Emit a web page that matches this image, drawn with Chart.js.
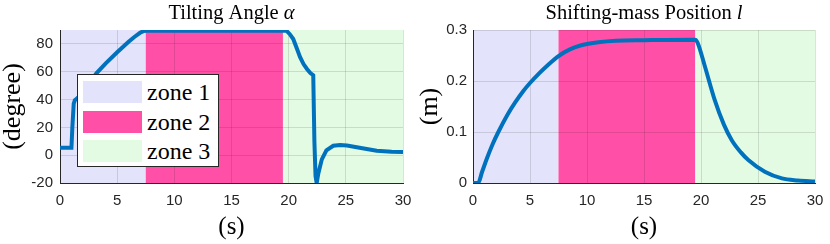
<!DOCTYPE html>
<html>
<head>
<meta charset="utf-8">
<script src="https://cdn.jsdelivr.net/npm/chart.js@4.4.1/dist/chart.umd.min.js"></script>
<style>
  html, body { margin: 0; padding: 0; background: #ffffff; }
  #wrap { position: relative; width: 830px; height: 244px; overflow: hidden; }
  .panel { position: absolute; top: 0; width: 415px; height: 244px; }
  #legend {
    position: absolute; left: 77px; top: 74px; width: 140px; height: 91px;
    border: 1px solid #262626; background: #ffffff;
    font-family: "Liberation Serif", "DejaVu Serif", serif; font-size: 24px; color: #000;
  }
  .row { position: absolute; left: 5px; height: 22px; }
  .sw { position: absolute; left: 0; top: 0; width: 59px; height: 22px; }
  .lbl { position: absolute; left: 64px; top: -2px; line-height: 26px; white-space: nowrap; }
</style>
</head>
<body>
<div id="wrap">
  <div class="panel" style="left:0"><canvas id="angle-chart" width="415" height="244"></canvas></div>
  <div class="panel" style="left:415px"><canvas id="mass-chart" width="415" height="244"></canvas></div>
  <div id="legend"></div>
</div>
<script>
// zones
const zoneNames = ["zone 1", "zone 2", "zone 3"];
const zoneStart = [0, 7.5, 19.5];
const zoneEnd = [7.5, 19.5, 30];
const zoneColors = ["#e3e3fb", "#ff4fa7", "#e3fbe3"];

// tilting angle alpha (degree) vs time (s)
const alphaTime = [0, 1.0, 1.08, 1.2, 1.3, 1.45, 2.0, 2.5, 3.2, 4.0, 5.0, 6.0, 6.5, 7.0, 7.3, 7.6,
  19.8, 20.1, 20.4, 20.7, 21.0, 21.3, 21.6, 21.9, 22.15, 22.25, 22.35, 22.45, 22.6, 22.9, 23.3,
  23.9, 24.5, 25.1, 26.2, 27.7, 29.0, 30.0];
const alphaDeg = [5.3, 5.3, 20, 37, 39.5, 40.5, 45, 51, 59, 66, 74, 81.5, 85, 88, 89.2, 89.5,
  89.5, 87, 83.5, 77, 70.5, 65.5, 62, 59, 57.5, 10, -15, -20, -13, -3, 3.5,
  6.8, 7.3, 7, 5.3, 3.2, 2.4, 2.2];

// shifting-mass position l (m) vs time (s)
const massTime = [0, 0.45, 0.8, 1.2, 1.7, 2.2, 3.0, 3.7, 4.4, 5.0, 5.8, 6.6, 7.5, 8.5, 9.5, 11, 12.5, 15, 19.5,
  19.7, 20.35, 21.2, 22.0, 22.7, 23.5, 24.15, 25.6, 27.1, 28.5, 30];
const massPos = [0, 0, 0.022, 0.047, 0.075, 0.099, 0.133, 0.158, 0.18, 0.196, 0.215, 0.232, 0.249, 0.262, 0.27, 0.276, 0.279, 0.28, 0.281,
  0.275, 0.228, 0.163, 0.115, 0.084, 0.06, 0.045, 0.022, 0.009, 0.005, 0.003];

const xTicksStep = 5;
const lineColor = "#0072BD";
const axisColor = "#262626";
const gridColor = "rgba(38,38,38,0.14)";
const tickFont = { family: "'Liberation Sans', Arial, sans-serif", size: 15 };
const serif = "'Liberation Serif', 'DejaVu Serif', serif";

// legend box (html, real text)
const legendEl = document.getElementById("legend");
zoneNames.forEach(function (name, i) {
  const row = document.createElement("div");
  row.className = "row";
  row.style.top = (6 + i * 29.5) + "px";
  row.innerHTML = '<div class="sw" style="background:' + zoneColors[i] + '"></div><div class="lbl">' + name + "</div>";
  legendEl.appendChild(row);
});

const zonePlugin = {
  id: "zones",
  beforeDraw(chart) {
    const { ctx, chartArea, scales } = chart;
    ctx.save();
    for (let i = 0; i < zoneNames.length; i++) {
      const x0 = scales.x.getPixelForValue(zoneStart[i]);
      const x1 = scales.x.getPixelForValue(zoneEnd[i]);
      ctx.fillStyle = zoneColors[i];
      ctx.fillRect(x0, chartArea.top, x1 - x0, chartArea.bottom - chartArea.top);
    }
    ctx.restore();
  },
};

// title with an italic symbol at the end
const titlePlugin = {
  id: "mathTitle",
  afterDraw(chart, args, opts) {
    const { ctx, chartArea } = chart;
    ctx.save();
    ctx.fillStyle = "#000";
    ctx.textBaseline = "alphabetic";
    const f1 = opts.size + "px " + serif;
    const f2 = "italic " + opts.size + "px " + serif;
    ctx.font = f1;
    const w1 = ctx.measureText(opts.text).width;
    ctx.font = f2;
    const w2 = ctx.measureText(opts.symbol).width;
    const cx = (chartArea.left + chartArea.right) / 2;
    let x = cx - (w1 + w2) / 2;
    ctx.font = f1;
    ctx.fillText(opts.text, x, opts.y);
    ctx.font = f2;
    ctx.fillText(opts.symbol, x + w1, opts.y);
    ctx.restore();
  },
};

function makeChart(canvasId, times, values, cfg) {
  const pts = times.map((t, i) => ({ x: t, y: values[i] }));
  return new Chart(document.getElementById(canvasId).getContext("2d"), {
    type: "line",
    data: {
      datasets: [{
        data: pts,
        borderColor: lineColor,
        borderWidth: 4,
        pointRadius: 0,
        tension: 0,
        cubicInterpolationMode: cfg.cubic,
        fill: false,
      }],
    },
    plugins: [zonePlugin, titlePlugin],
    options: {
      responsive: false,
      animation: false,
      layout: { padding: { left: 0, right: cfg.padRight, top: 30, bottom: 0 } },
      plugins: {
        legend: { display: false },
        tooltip: { enabled: false },
        mathTitle: { text: cfg.title, symbol: cfg.symbol, size: 20.5, y: 19 },
      },
      scales: {
        x: {
          type: "linear",
          min: 0,
          max: 30,
          afterFit: (s) => { s.height = 61; s.paddingLeft = 0; s.paddingRight = 0; },
          ticks: { stepSize: xTicksStep, font: tickFont, color: axisColor, padding: 9, maxRotation: 0 },
          grid: { color: gridColor, drawTicks: false },
          border: { color: axisColor, width: 1 },
          title: { display: true, text: "(s)", font: { family: serif, size: 25, lineHeight: 1 }, color: "#000", padding: { top: 0, bottom: 4 } },
        },
        y: {
          type: "linear",
          min: cfg.yMin,
          max: cfg.yMax,
          afterFit: (s) => { s.width = cfg.yWidth; s.paddingTop = 0; s.paddingBottom = 0; },
          ticks: {
            stepSize: cfg.yStep,
            includeBounds: false,
            font: tickFont,
            color: axisColor,
            padding: cfg.yPad,
            callback: cfg.yFmt,
          },
          grid: { color: gridColor, drawTicks: false },
          border: { color: axisColor, width: 1 },
          title: { display: true, text: cfg.yTitle, font: { family: serif, size: 26, lineHeight: 1 }, color: "#000", padding: { top: cfg.yTitlePad, bottom: 0 } },
        },
      },
    },
  });
}

makeChart("angle-chart", alphaTime, alphaDeg, {
  title: "Tilting Angle ", symbol: "α", padRight: 12, yWidth: 60, yPad: 7,
  yMin: -20, yMax: 90, yStep: 20, yTitle: "(degree)", yTitlePad: 0, cubic: "default",
  yFmt: (v) => String(v),
});

makeChart("mass-chart", massTime, massPos, {
  title: "Shifting-mass Position ", symbol: "l", padRight: 15, yWidth: 58, yPad: 6,
  yMin: 0, yMax: 0.3, yStep: 0.1, yTitle: "(m)", yTitlePad: 2, cubic: "monotone",
  yFmt: (v) => (Math.abs(v) < 1e-9 ? "0" : v.toFixed(1)),
});
</script>
</body>
</html>
